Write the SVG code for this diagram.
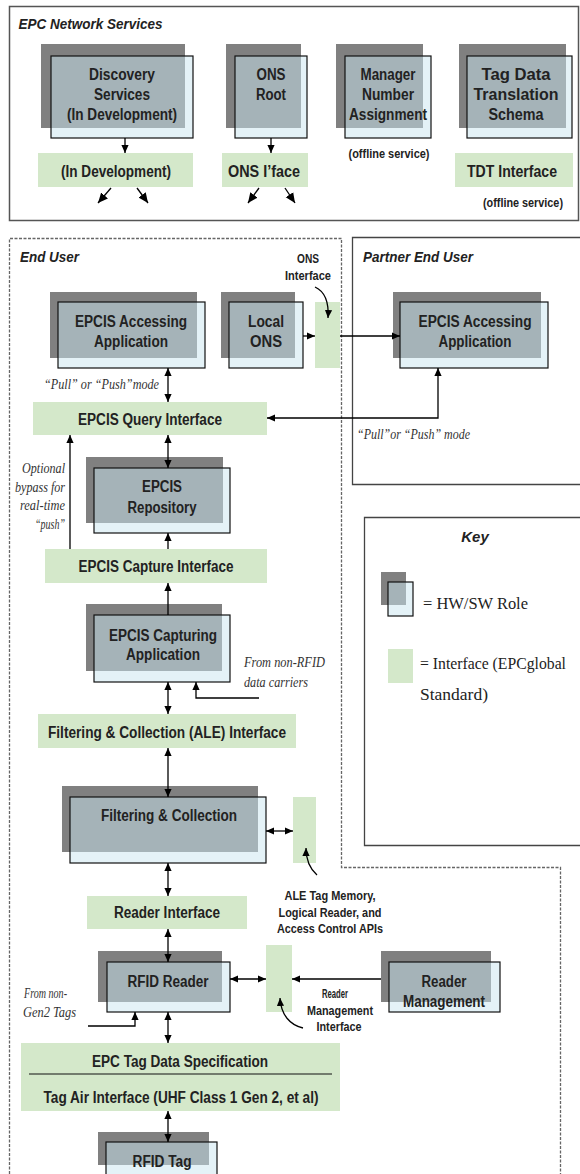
<svg xmlns="http://www.w3.org/2000/svg" width="580" height="1174" viewBox="0 0 580 1174">
<style>
.dk{fill:#808080}
.lt{fill:#cae6f0;fill-opacity:.5;stroke:#111;stroke-width:1.2}
.gr{fill:#d4e8ca}
.b{font-family:"Liberation Sans",Arial,sans-serif;font-weight:bold;fill:#222;text-anchor:middle}
.f16{font-size:16px}
.f13{font-size:13px}
.f12{font-size:12px}
.ttl{font-family:"Liberation Sans",Arial,sans-serif;font-weight:bold;font-style:italic;font-size:15px;fill:#222}
.si{font-family:"Liberation Serif","Times New Roman",serif;font-style:italic;font-size:15px;fill:#333}
.k{font-family:"Liberation Serif","Times New Roman",serif;font-size:17px;fill:#222}
.c{fill:none;stroke:#000;stroke-width:1.3}
</style>
<defs>
<marker id="ah" viewBox="0 0 10 10" refX="10" refY="5" markerWidth="8" markerHeight="8" markerUnits="userSpaceOnUse" orient="auto-start-reverse"><path d="M0,0.5 L10,5 L0,9.5 z" fill="#000"/></marker>
<marker id="ab" viewBox="0 0 10 10" refX="10" refY="5" markerWidth="10" markerHeight="10" markerUnits="userSpaceOnUse" orient="auto"><path d="M0,0.5 L10,5 L0,9.5 z" fill="#000"/></marker>
</defs>
<rect width="580" height="1174" fill="#fff"/>

<!-- frames -->
<g id="frames">
<rect x="9.5" y="6.5" width="569" height="214" fill="none" stroke="#555" stroke-width="1.5"/>
<text class="ttl" x="18.5" y="29" textLength="144" lengthAdjust="spacingAndGlyphs">EPC Network Services</text>
<path d="M9.5,1174 V238.5 H341.5 V867.5 H560.5 V1174" fill="none" stroke="#666" stroke-width="1.3" stroke-dasharray="3 1.5"/>
<text class="ttl" x="20" y="262" textLength="59" lengthAdjust="spacingAndGlyphs">End User</text>
<path d="M580,237.5 H352.5 V484.5 H580" fill="none" stroke="#444" stroke-width="1.3"/>
<text class="ttl" x="363" y="262" textLength="110" lengthAdjust="spacingAndGlyphs">Partner End User</text>
</g>

<!-- top section nodes -->
<g id="discovery">
<rect class="dk" x="41" y="44" width="144" height="84"/>
<rect class="lt" x="51" y="56" width="142" height="82"/>
<text class="b f16" x="122" y="80" textLength="66" lengthAdjust="spacingAndGlyphs">Discovery</text>
<text class="b f16" x="122" y="100" textLength="56" lengthAdjust="spacingAndGlyphs">Services</text>
<text class="b f16" x="122" y="120" textLength="110" lengthAdjust="spacingAndGlyphs">(In Development)</text>
</g>
<g id="discovery-iface">
<rect class="gr" x="38" y="153" width="155" height="34"/>
<text class="b f16" x="116" y="177" textLength="110" lengthAdjust="spacingAndGlyphs">(In Development)</text>
</g>
<g id="ons-root">
<rect class="dk" x="226" y="44" width="75" height="84"/>
<rect class="lt" x="235" y="56" width="72" height="82"/>
<text class="b f16" x="271" y="80" textLength="29" lengthAdjust="spacingAndGlyphs">ONS</text>
<text class="b f16" x="271" y="100" textLength="30" lengthAdjust="spacingAndGlyphs">Root</text>
</g>
<g id="ons-iface">
<rect class="gr" x="222" y="153" width="86" height="34"/>
<text class="b f16" x="264" y="177" textLength="72" lengthAdjust="spacingAndGlyphs">ONS I’face</text>
</g>
<g id="manager">
<rect class="dk" x="336" y="44" width="87" height="84"/>
<rect class="lt" x="345" y="56" width="86" height="82"/>
<text class="b f16" x="388" y="80" textLength="55" lengthAdjust="spacingAndGlyphs">Manager</text>
<text class="b f16" x="388" y="100" textLength="52" lengthAdjust="spacingAndGlyphs">Number</text>
<text class="b f16" x="388" y="120" textLength="78" lengthAdjust="spacingAndGlyphs">Assignment</text>
<text class="b f12" x="389" y="158" textLength="81" lengthAdjust="spacingAndGlyphs">(offline service)</text>
</g>
<g id="tdt">
<rect class="dk" x="459" y="44" width="107" height="84"/>
<rect class="lt" x="467" y="56" width="105" height="82"/>
<text class="b f16" x="516" y="80" textLength="69" lengthAdjust="spacingAndGlyphs">Tag Data</text>
<text class="b f16" x="516" y="100" textLength="85" lengthAdjust="spacingAndGlyphs">Translation</text>
<text class="b f16" x="516" y="120" textLength="55" lengthAdjust="spacingAndGlyphs">Schema</text>
</g>
<g id="tdt-iface">
<rect class="gr" x="455" y="153" width="118" height="34"/>
<text class="b f16" x="512" y="177" textLength="90" lengthAdjust="spacingAndGlyphs">TDT Interface</text>
<text class="b f12" x="523" y="207" textLength="80" lengthAdjust="spacingAndGlyphs">(offline service)</text>
</g>

<!-- end user -->
<g id="epcis-accessing">
<rect class="dk" x="50" y="292" width="147" height="66"/>
<rect class="lt" x="58" y="302" width="147" height="66"/>
<text class="b f16" x="131" y="327" textLength="112" lengthAdjust="spacingAndGlyphs">EPCIS Accessing</text>
<text class="b f16" x="131" y="347" textLength="74" lengthAdjust="spacingAndGlyphs">Application</text>
</g>
<g id="local-ons">
<rect class="dk" x="221" y="292" width="74" height="66"/>
<rect class="lt" x="229" y="302" width="74" height="66"/>
<text class="b f16" x="266" y="327" textLength="36" lengthAdjust="spacingAndGlyphs">Local</text>
<text class="b f16" x="266" y="347" textLength="32" lengthAdjust="spacingAndGlyphs">ONS</text>
</g>
<g id="ons-interface">
<rect class="gr" x="315" y="302" width="25" height="66"/>
<text class="b f12" x="308" y="263" textLength="22" lengthAdjust="spacingAndGlyphs">ONS</text>
<text class="b f12" x="308" y="280" textLength="46" lengthAdjust="spacingAndGlyphs">Interface</text>
</g>
<g id="partner-epcis">
<rect class="dk" x="393" y="292" width="148" height="66"/>
<rect class="lt" x="400" y="302" width="148" height="66"/>
<text class="b f16" x="475" y="327" textLength="113" lengthAdjust="spacingAndGlyphs">EPCIS Accessing</text>
<text class="b f16" x="475" y="347" textLength="73" lengthAdjust="spacingAndGlyphs">Application</text>
</g>
<g id="labels-mode">
<text class="si" x="159" y="389" text-anchor="end" textLength="115" lengthAdjust="spacingAndGlyphs">“Pull” or “Push”mode</text>
<text class="si" x="357" y="439" textLength="113" lengthAdjust="spacingAndGlyphs">“Pull”or “Push” mode</text>
</g>
<g id="query-iface">
<rect class="gr" x="33" y="402" width="234" height="33"/>
<text class="b f16" x="150" y="425" textLength="144" lengthAdjust="spacingAndGlyphs">EPCIS Query Interface</text>
</g>
<g id="bypass-label">
<text class="si" x="65" y="473" text-anchor="end" textLength="43" lengthAdjust="spacingAndGlyphs">Optional</text>
<text class="si" x="65" y="492" text-anchor="end" textLength="50" lengthAdjust="spacingAndGlyphs">bypass for</text>
<text class="si" x="65" y="510" text-anchor="end" textLength="45" lengthAdjust="spacingAndGlyphs">real-time</text>
<text class="si" x="65" y="529" text-anchor="end" textLength="30" lengthAdjust="spacingAndGlyphs">“push”</text>
</g>
<g id="repository">
<rect class="dk" x="86" y="457" width="137" height="66"/>
<rect class="lt" x="94" y="468" width="136" height="65"/>
<text class="b f16" x="162" y="492" textLength="40" lengthAdjust="spacingAndGlyphs">EPCIS</text>
<text class="b f16" x="162" y="513" textLength="69" lengthAdjust="spacingAndGlyphs">Repository</text>
</g>
<g id="capture-iface">
<rect class="gr" x="45" y="549" width="222" height="34"/>
<text class="b f16" x="156" y="572" textLength="155" lengthAdjust="spacingAndGlyphs">EPCIS Capture Interface</text>
</g>
<g id="capturing-app">
<rect class="dk" x="86" y="604" width="136" height="67"/>
<rect class="lt" x="94" y="615" width="136" height="67"/>
<text class="b f16" x="163" y="641" textLength="108" lengthAdjust="spacingAndGlyphs">EPCIS Capturing</text>
<text class="b f16" x="163" y="660" textLength="74" lengthAdjust="spacingAndGlyphs">Application</text>
</g>
<g id="non-rfid-label">
<text class="si" x="244" y="667" textLength="81" lengthAdjust="spacingAndGlyphs">From non-RFID</text>
<text class="si" x="244" y="687" textLength="64" lengthAdjust="spacingAndGlyphs">data carriers</text>
</g>
<g id="ale-iface">
<rect class="gr" x="38" y="714" width="258" height="34"/>
<text class="b f16" x="167" y="738" textLength="238" lengthAdjust="spacingAndGlyphs">Filtering &amp; Collection (ALE) Interface</text>
</g>
<g id="filtering">
<rect class="dk" x="62" y="786" width="196" height="66"/>
<rect class="lt" x="70" y="797" width="196" height="66"/>
<text class="b f16" x="169" y="821" textLength="136" lengthAdjust="spacingAndGlyphs">Filtering &amp; Collection</text>
</g>
<g id="ale-tag-iface">
<rect class="gr" x="293" y="797" width="23" height="66"/>
<text class="b f13" x="330" y="900" textLength="91" lengthAdjust="spacingAndGlyphs">ALE Tag Memory,</text>
<text class="b f13" x="330" y="917" textLength="103" lengthAdjust="spacingAndGlyphs">Logical Reader, and</text>
<text class="b f13" x="330" y="933" textLength="106" lengthAdjust="spacingAndGlyphs">Access Control APIs</text>
</g>
<g id="reader-iface">
<rect class="gr" x="87" y="896" width="160" height="33"/>
<text class="b f16" x="167" y="918" textLength="106" lengthAdjust="spacingAndGlyphs">Reader Interface</text>
</g>
<g id="rfid-reader">
<rect class="dk" x="98" y="951" width="124" height="51"/>
<rect class="lt" x="107" y="962" width="123" height="50"/>
<text class="b f16" x="168" y="987" textLength="81" lengthAdjust="spacingAndGlyphs">RFID Reader</text>
</g>
<g id="reader-mgmt-iface">
<rect class="gr" x="266" y="945" width="26" height="67"/>
<text class="b f12" x="335" y="998" textLength="26" lengthAdjust="spacingAndGlyphs">Reader</text>
<text class="b f12" x="340" y="1015" textLength="66" lengthAdjust="spacingAndGlyphs">Management</text>
<text class="b f12" x="339" y="1031" textLength="45" lengthAdjust="spacingAndGlyphs">Interface</text>
</g>
<g id="reader-mgmt">
<rect class="dk" x="381" y="951" width="110" height="51"/>
<rect class="lt" x="389" y="962" width="111" height="50"/>
<text class="b f16" x="444" y="987" textLength="45" lengthAdjust="spacingAndGlyphs">Reader</text>
<text class="b f16" x="444" y="1007" textLength="82" lengthAdjust="spacingAndGlyphs">Management</text>
</g>
<g id="non-gen2-label">
<text class="si" x="24" y="998" textLength="43" lengthAdjust="spacingAndGlyphs">From non-</text>
<text class="si" x="23" y="1017" textLength="53" lengthAdjust="spacingAndGlyphs">Gen2 Tags</text>
</g>
<g id="tag-data-spec">
<rect class="gr" x="21" y="1043" width="319" height="68"/>
<text class="b f16" x="180" y="1067" textLength="176" lengthAdjust="spacingAndGlyphs">EPC Tag Data Specification</text>
<line x1="29" y1="1074" x2="332" y2="1074" stroke="#111" stroke-width="1"/>
<text class="b f16" x="181" y="1103" textLength="275" lengthAdjust="spacingAndGlyphs">Tag Air Interface (UHF Class 1 Gen 2, et al)</text>
</g>
<g id="rfid-tag">
<rect class="dk" x="98" y="1132" width="111" height="33"/>
<rect class="lt" x="106" y="1142" width="111" height="40"/>
<text class="b f16" x="162" y="1167" textLength="59" lengthAdjust="spacingAndGlyphs">RFID Tag</text>
</g>

<!-- key -->
<g id="key">
<path d="M580,517.5 H364.5 V845.5 H580" fill="none" stroke="#444" stroke-width="1.3"/>
<text class="ttl" x="475" y="542" text-anchor="middle" font-size="16">Key</text>
<rect class="dk" x="381" y="572" width="25" height="33"/>
<rect class="lt" x="388" y="582" width="25" height="34"/>
<text class="k" x="423" y="609" textLength="105" lengthAdjust="spacingAndGlyphs">= HW/SW Role</text>
<rect class="gr" x="388" y="649" width="25" height="34"/>
<text class="k" x="420" y="669" textLength="146" lengthAdjust="spacingAndGlyphs">= Interface (EPCglobal</text>
<text class="k" x="420" y="700" textLength="68" lengthAdjust="spacingAndGlyphs">Standard)</text>
</g>

<!-- connectors -->
<g id="connectors">
<path class="c" d="M125,138 V153" marker-end="url(#ah)"/>
<path class="c" d="M271,138 V153" marker-end="url(#ah)"/>
<path class="c" d="M111,188 L98,203" marker-end="url(#ab)"/>
<path class="c" d="M137,188 L148,203" marker-end="url(#ab)"/>
<path class="c" d="M259,188 L248,203" marker-end="url(#ab)"/>
<path class="c" d="M285,188 L295,203" marker-end="url(#ab)"/>
<path class="c" d="M303,336 H315" marker-end="url(#ah)"/>
<path class="c" d="M340,336 H400" marker-end="url(#ah)"/>
<path class="c" d="M315,287 C326,292 329,303 328,318" marker-end="url(#ah)"/>
<path class="c" d="M267,418 H438 V368" marker-start="url(#ah)" marker-end="url(#ah)"/>
<path class="c" d="M168,368 V402" marker-start="url(#ah)" marker-end="url(#ah)"/>
<path class="c" d="M70,549 V435" marker-end="url(#ah)"/>
<path class="c" d="M168,435 V468" marker-start="url(#ah)" marker-end="url(#ah)"/>
<path class="c" d="M168,549 V533" marker-end="url(#ah)"/>
<path class="c" d="M168,615 V583" marker-end="url(#ah)"/>
<path class="c" d="M168,682 V714" marker-start="url(#ah)" marker-end="url(#ah)"/>
<path class="c" d="M259,698 H196 V682" marker-end="url(#ah)"/>
<path class="c" d="M168,748 V797" marker-start="url(#ah)" marker-end="url(#ah)"/>
<path class="c" d="M266,831 H293" marker-start="url(#ah)" marker-end="url(#ah)"/>
<path class="c" d="M317,875 C309,868 306,860 306,848" marker-end="url(#ah)"/>
<path class="c" d="M168,863 V896" marker-start="url(#ah)" marker-end="url(#ah)"/>
<path class="c" d="M168,929 V962" marker-start="url(#ah)" marker-end="url(#ah)"/>
<path class="c" d="M230,979 H266" marker-start="url(#ah)" marker-end="url(#ah)"/>
<path class="c" d="M381,979 H292" marker-end="url(#ah)"/>
<path class="c" d="M303,1028 C290,1025 281,1015 280,998" marker-end="url(#ah)"/>
<path class="c" d="M88,1026 H135 V1012" marker-end="url(#ah)"/>
<path class="c" d="M168,1012 V1043" marker-start="url(#ah)" marker-end="url(#ah)"/>
<path class="c" d="M168,1111 V1142" marker-start="url(#ah)" marker-end="url(#ah)"/>
</g>
</svg>
